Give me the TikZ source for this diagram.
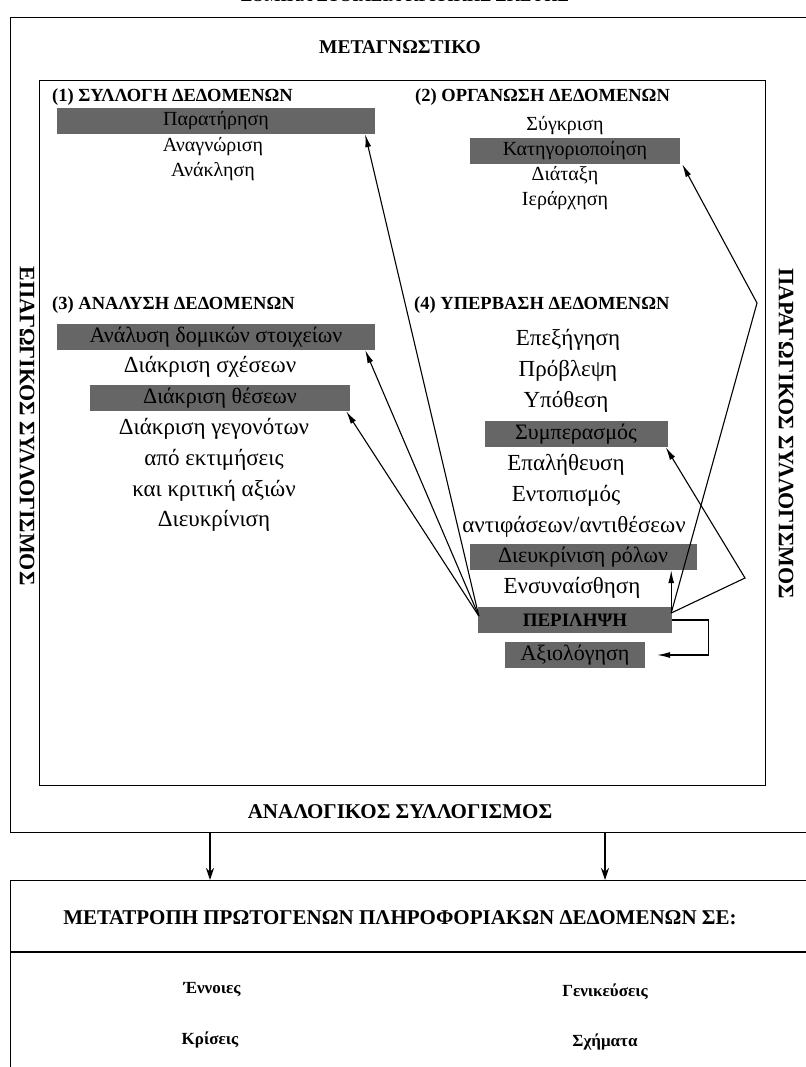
\documentclass[tikz,border=0pt]{standalone}
\usepackage{fontspec}
\setmainfont{Liberation Serif}
\usetikzlibrary{arrows.meta,calc}
\begin{document}
\begin{tikzpicture}[x=1pt,y=-1pt,
  frame/.style={draw, line width=1.4pt, inner sep=0pt, anchor=north west},
  hdr/.style={font=\bfseries\fontsize{18.5}{20}\selectfont, inner sep=0pt, anchor=west},
  captxt/.style={font=\bfseries\fontsize{17}{20}\selectfont, inner sep=0pt},
  itm/.style={font=\fontsize{20}{22}\selectfont, inner sep=0pt},
  itmb/.style={font=\fontsize{23}{25}\selectfont, inner sep=0pt},
  btm/.style={font=\bfseries\fontsize{17}{18}\selectfont, inner sep=0pt},
  shd/.style={fill=black!60, text=black, font=\fontsize{20}{22}\selectfont, minimum height=26pt, inner sep=0pt},
  shdb/.style={shd, font=\fontsize{22}{24}\selectfont},
  arr/.style={line width=1.1pt, -{Latex[length=13pt,width=6pt]}},
  bigarr/.style={line width=2.4pt, -{Stealth[length=12pt,width=8pt]}}
]
\useasboundingbox (0,0) rectangle (805,1067);
\fill[white] (0,0) rectangle (805,1067);

% title (cut at top, as in the source)
\node[captxt] (title) at (405,-4) {ΔΟΜΙΚΑ ΣΤΟΙΧΕΙΑ ΚΡΙΤΙΚΗΣ ΣΚΕΨΗΣ};

% frames
\node[frame, minimum width=802pt, minimum height=815pt] (outer) at (10,17) {};
\node[frame, minimum width=726pt, minimum height=705pt] (inner) at (39,80) {};
\node[captxt, font=\bfseries\fontsize{19.5}{21}\selectfont] (meta) at (400,47) {ΜΕΤΑΓΝΩΣΤΙΚΟ};
\node[captxt, font=\bfseries\fontsize{22}{24}\selectfont, rotate=-90] (epag) at (27,426) {ΕΠΑΓΩΓΙΚΟΣ ΣΥΛΛΟΓΙΣΜΟΣ};
\node[captxt, font=\bfseries\fontsize{22}{24}\selectfont, rotate=-90] (parag) at (786,434) {ΠΑΡΑΓΩΓΙΚΟΣ ΣΥΛΛΟΓΙΣΜΟΣ};
\node[captxt, font=\bfseries\fontsize{21}{23}\selectfont] (analog) at (400,812) {ΑΝΑΛΟΓΙΚΟΣ ΣΥΛΛΟΓΙΣΜΟΣ};

% (1)
\node[hdr] (h1) at (52,97) {(1) ΣΥΛΛΟΓΗ ΔΕΔΟΜΕΝΩΝ};
\node[shd, minimum width=318pt] (obs) at (216,121) {Παρατήρηση};
\node[itm] (l12) at (213,147) {Αναγνώριση};
\node[itm] (l13) at (213,172) {Ανάκληση};

% (2)
\node[hdr] (h2) at (415,97) {(2) ΟΡΓΑΝΩΣΗ ΔΕΔΟΜΕΝΩΝ};
\node[itm] (r11) at (565,126) {Σύγκριση};
\node[shd, minimum width=210pt] (kat) at (575,151) {Κατηγοριοποίηση};
\node[itm] (r13) at (565,176) {Διάταξη};
\node[itm] (r14) at (565,201) {Ιεράρχηση};

% (3)
\node[hdr] (h3) at (52,305) {(3) ΑΝΑΛΥΣΗ ΔΕΔΟΜΕΝΩΝ};
\node[shdb, minimum width=318pt] (ana) at (216,337) {Ανάλυση δομικών στοιχείων};
\node[itmb] (l31) at (210,367) {Διάκριση σχέσεων};
\node[shdb, minimum width=260pt] (dia) at (220,398) {Διάκριση θέσεων};
\node[itmb] (l33) at (214,429) {Διάκριση γεγονότων};
\node[itmb] (l34) at (214,460) {από εκτιμήσεις};
\node[itmb] (l35) at (214,491) {και κριτική αξιών};
\node[itmb] (l36) at (214,521) {Διευκρίνιση};

% (4)
\node[hdr] (h4) at (414,305) {(4) ΥΠΕΡΒΑΣΗ ΔΕΔΟΜΕΝΩΝ};
\node[itmb] (r31) at (568,340) {Επεξήγηση};
\node[itmb] (r32) at (568,371) {Πρόβλεψη};
\node[itmb] (r33) at (566,402) {Υπόθεση};
\node[shdb, minimum width=183pt] (sym) at (576,434) {Συμπερασμός};
\node[itmb] (r35) at (566,465) {Επαλήθευση};
\node[itmb] (r36) at (566,496) {Εντοπισμός};
\node[itmb] (r37) at (574,527) {αντιφάσεων/αντιθέσεων};
\node[shdb, minimum width=227pt] (rol) at (583,557) {Διευκρίνιση ρόλων};
\node[itmb] (r39) at (572,588) {Ενσυναίσθηση};
\node[shd, minimum width=194pt, font=\bfseries\fontsize{19}{21}\selectfont] (per) at (575,620) {ΠΕΡΙΛΗΨΗ};
\node[shdb, minimum width=140pt] (axi) at (575,655) {Αξιολόγηση};

% connectors from ΠΕΡΙΛΗΨΗ
\coordinate (pl) at ($(per.west)+(1,-4)$);
\coordinate (pr) at ($(per.east)+(-1,-7)$);
\coordinate (b1) at (757,303);
\coordinate (b2) at (745,578);
\draw[arr] (pl) -- ($(obs.south east)+(-10,0)$);
\draw[arr] (pl) -- ($(ana.south east)+(-10,0)$);
\draw[arr] (pl) -- ($(dia.south east)+(-4,0)$);
\draw[arr] (pr) -- (b1) -- ($(kat.south east)+(2,0)$);
\draw[arr] (pr) -- (b2) -- ($(sym.south east)+(-2,0)$);
\draw[arr] (pr) -- (pr |- rol.south);
\coordinate (k1) at ($(per.east)+(36,0)$);
\draw[arr] (per.east) -- (k1) -- (k1 |- axi.east) -- ($(axi.east)+(12,0)$);

% lower box
\node[frame, minimum width=802pt, minimum height=200pt] (low) at (10,880) {};
\coordinate (divl) at (10,952);
\coordinate (divr) at (812,952);
\draw[line width=1.4pt] (divl) -- (divr);
\coordinate (d1) at (210,832);
\coordinate (d2) at (605,832);
\draw[bigarr] (d1) -- (d1 |- low.north);
\draw[bigarr] (d2) -- (d2 |- low.north);
\node[captxt, font=\bfseries\fontsize{21}{23}\selectfont] (metatr) at (400,918) {ΜΕΤΑΤΡΟΠΗ ΠΡΩΤΟΓΕΝΩΝ ΠΛΗΡΟΦΟΡΙΑΚΩΝ ΔΕΔΟΜΕΝΩΝ ΣΕ:};
\node[btm] (enn) at (212,990) {Έννοιες};
\node[btm] (gen) at (605,992) {Γενικεύσεις};
\node[btm] (kri) at (210,1040) {Κρίσεις};
\node[btm] (sxi) at (605,1042) {Σχήματα};
\end{tikzpicture}
\end{document}
